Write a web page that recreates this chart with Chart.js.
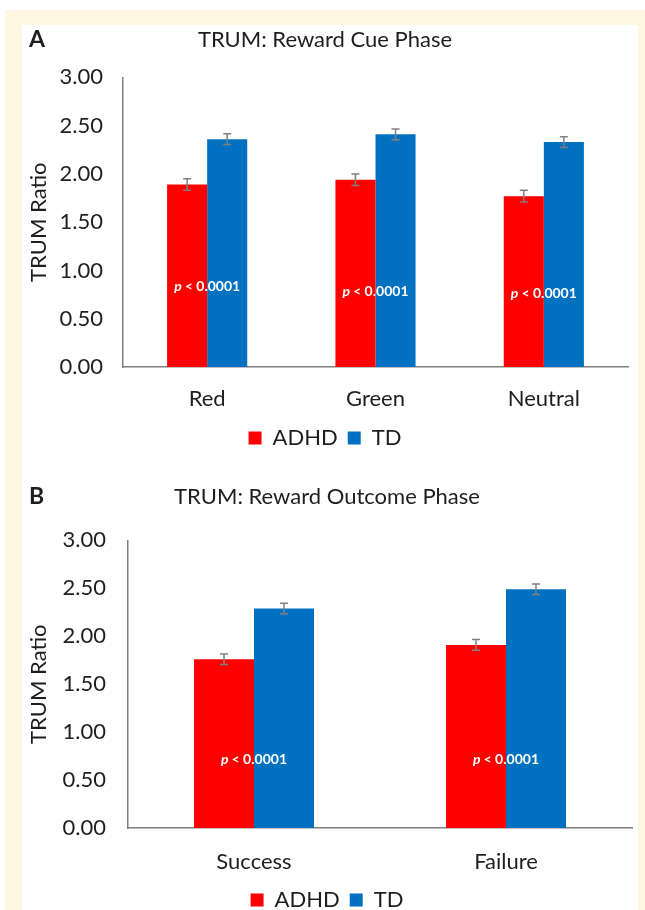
<!DOCTYPE html>
<html>
<head>
<meta charset="utf-8">
<script src="https://cdn.jsdelivr.net/npm/chart.js@4"></script>
<style>
  html, body { margin: 0; padding: 0; background: #fff; overflow: hidden; }
  body { width: 645px; height: 910px; position: relative; font-family: Lato, sans-serif; }
  #cream { position: absolute; left: 5px; top: 10px; width: 640px; height: 900px; background: #fff7e1; }
  #panel { position: absolute; left: 22px; top: 25px; width: 616px; height: 885px; background: #fff; }
  canvas { position: absolute; left: 0; }
  #chartA { top: 0; }
  #chartB { top: 460px; }
</style>
</head>
<body>
<div id="cream"></div>
<div id="panel"></div>
<canvas id="chartA" width="645" height="460"></canvas>
<canvas id="chartB" width="645" height="500"></canvas>
<script>
// Panel A data
const cueCategories = ['Red', 'Green', 'Neutral'];
const cueADHD = [1.89, 1.94, 1.77];
const cueTD = [2.36, 2.41, 2.33];
const cueErrADHD = [0.06, 0.06, 0.06];
const cueErrTD = [0.055, 0.055, 0.055];
const cuePLabelAt = [0.83, 0.78, 0.76];

// Panel B data
const outcomeCategories = ['Success', 'Failure'];
const outcomeADHD = [1.76, 1.91];
const outcomeTD = [2.29, 2.49];
const outcomeErrADHD = [0.055, 0.055];
const outcomeErrTD = [0.055, 0.055];
const outcomePLabelAt = [0.71, 0.71];

const yTicks = [0, 0.5, 1, 1.5, 2, 2.5, 3];
const pText = '< 0.0001';

const textColor = '#1e1e1e';
const axisColor = '#7f7f7f';

// error bars drawn through the bar elements and y scale
const errorBars = {
    id: 'errorBars',
    afterDatasetsDraw(chart, args, opts) {
        const ctx = chart.ctx;
        const y = chart.scales.y;
        ctx.save();
        ctx.strokeStyle = axisColor;
        ctx.lineWidth = 1.5;
        chart.data.datasets.forEach((ds, i) => {
            const meta = chart.getDatasetMeta(i);
            meta.data.forEach((bar, j) => {
                const v = ds.data[j];
                const e = ds.errors[j];
                const top = y.getPixelForValue(v + e);
                const bot = y.getPixelForValue(v - e);
                ctx.beginPath();
                ctx.moveTo(bar.x, top); ctx.lineTo(bar.x, bot);
                ctx.moveTo(bar.x - 4, top); ctx.lineTo(bar.x + 4, top);
                ctx.moveTo(bar.x - 4, bot); ctx.lineTo(bar.x + 4, bot);
                ctx.stroke();
            });
        });
        ctx.restore();
    }
};

// panel letter and p-value labels
const annotations = {
    id: 'annotations',
    afterDraw(chart, args, opts) {
        const ctx = chart.ctx;
        ctx.save();
        ctx.fillStyle = textColor;
        ctx.font = 'bold 23px Lato';
        ctx.textBaseline = 'middle';
        ctx.textAlign = 'left';
        ctx.fillText(opts.letter, 29, opts.letterY);

        const x = chart.scales.x;
        const y = chart.scales.y;
        ctx.fillStyle = '#ffffff';
        opts.pAt.forEach((v, j) => {
            const cx = x.getPixelForValue(j);
            const cy = y.getPixelForValue(v);
            ctx.font = 'italic bold 14px Lato';
            const wP = ctx.measureText('p ').width;
            ctx.font = 'bold 14px Lato';
            const wR = ctx.measureText(pText).width;
            const start = cx - (wP + wR) / 2;
            ctx.font = 'italic bold 14px Lato';
            ctx.fillText('p ', start, cy);
            ctx.font = 'bold 14px Lato';
            ctx.fillText(pText, start + wP, cy);
        });
        ctx.restore();
    }
};

function makeChart(id, cfg) {
    return new Chart(document.getElementById(id), {
        type: 'bar',
        data: {
            labels: cfg.labels,
            datasets: [
                { label: 'ADHD', data: cfg.adhd, errors: cfg.errAdhd, backgroundColor: '#ff0000' },
                { label: 'TD', data: cfg.td, errors: cfg.errTd, backgroundColor: '#0070c0' }
            ]
        },
        options: {
            responsive: false,
            animation: false,
            datasets: { bar: { barPercentage: 1, categoryPercentage: 0.476 } },
            layout: { padding: cfg.padding },
            plugins: {
                title: {
                    display: true,
                    text: cfg.title,
                    color: textColor,
                    font: { family: 'Lato', size: 22, weight: 'normal' },
                    padding: { top: 0, bottom: cfg.titleGap }
                },
                legend: {
                    position: 'bottom',
                    labels: {
                        color: textColor,
                        boxWidth: 13,
                        boxHeight: 13,
                        padding: 10,
                        font: { family: 'Lato', size: 22 }
                    }
                },
                tooltip: { enabled: false },
                annotations: { letter: cfg.letter, letterY: cfg.letterY, pAt: cfg.pAt }
            },
            scales: {
                x: {
                    grid: { display: false, drawTicks: false },
                    border: { display: true, color: axisColor, width: 1.5 },
                    ticks: { color: textColor, padding: cfg.xPad, font: { family: 'Lato', size: 22 } },
                    afterFit: s => { s.height = cfg.xHeight; }
                },
                y: {
                    min: 0,
                    max: 3,
                    afterBuildTicks: s => { s.ticks = yTicks.map(v => ({ value: v })); },
                    grid: { display: false, drawTicks: false },
                    border: { display: true, color: axisColor, width: 1.5 },
                    ticks: {
                        color: textColor,
                        padding: cfg.yPad,
                        crossAlign: 'near',
                        font: { family: 'Lato', size: 22 },
                        callback: v => Number(v).toFixed(2)
                    },
                    title: {
                        display: true,
                        text: 'TRUM Ratio',
                        color: textColor,
                        font: { family: 'Lato', size: 22 },
                        padding: { top: 4, bottom: 4 }
                    },
                    afterFit: s => { s.width = cfg.yWidth; }
                }
            }
        },
        plugins: [errorBars, annotations]
    });
}

makeChart('chartA', {
    labels: cueCategories, adhd: cueADHD, td: cueTD,
    errAdhd: cueErrADHD, errTd: cueErrTD, pAt: cuePLabelAt,
    title: 'TRUM: Reward Cue Phase', letter: 'A', letterY: 40,
    padding: { top: 27, left: 22, right: 17, bottom: 1 },
    titleGap: 24, xHeight: 50, yWidth: 101, yPad: 20, xPad: 19
});

makeChart('chartB', {
    labels: outcomeCategories, adhd: outcomeADHD, td: outcomeTD,
    errAdhd: outcomeErrADHD, errTd: outcomeErrTD, pAt: outcomePLabelAt,
    title: 'TRUM: Reward Outcome Phase', letter: 'B', letterY: 37,
    padding: { top: 24, left: 22, right: 13, bottom: 39 },
    titleGap: 30, xHeight: 51, yWidth: 106, yPad: 22, xPad: 21
});
</script>
</body>
</html>
